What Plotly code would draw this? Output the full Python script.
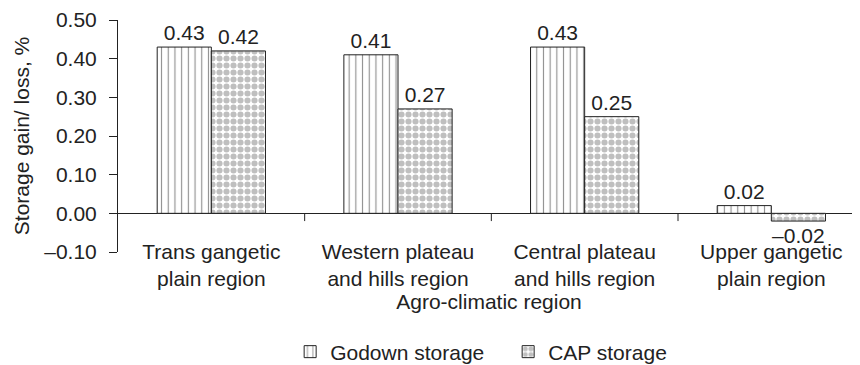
import plotly.graph_objects as go

categories = ["Trans gangetic<br>plain region", "Western plateau<br>and hills region",
              "Central plateau<br>and hills region", "Upper gangetic<br>plain region"]
godown = [0.43, 0.41, 0.43, 0.02]
cap = [0.42, 0.27, 0.25, -0.02]
ytickvals = [-0.10, 0.00, 0.10, 0.20, 0.30, 0.40, 0.50]
yticktext = ["\u20130.10", "0.00", "0.10", "0.20", "0.30", "0.40", "0.50"]

def fmt(v):
    s = f"{abs(v):.2f}"
    return ("\u2013" + s) if v < 0 else s

FONT = "Liberation Sans, Arial, Helvetica, sans-serif"
INK = "#222222"
FS = 21

fig = go.Figure()
fig.add_trace(go.Bar(
    x=categories, y=godown, name="Godown storage",
    text=[fmt(v) for v in godown], textposition="outside", cliponaxis=False,
    textfont=dict(size=FS, color=INK, family=FONT),
    marker=dict(color="white", line=dict(color=INK, width=1),
                pattern=dict(shape="|", fgcolor=INK, bgcolor="white", size=6.7, solidity=0.17)),
))
fig.add_trace(go.Bar(
    x=categories, y=cap, name="CAP storage",
    text=[fmt(v) for v in cap], textposition="outside", cliponaxis=False,
    textfont=dict(size=FS, color=INK, family=FONT),
    marker=dict(color="white", line=dict(color=INK, width=1),
                pattern=dict(shape=".", fgcolor="#808080", bgcolor="white", size=7, solidity=0.6)),
))

# category boundary ticks on the zero line
for i in range(len(categories) - 1):
    fig.add_shape(type="line", xref="x", yref="y", x0=i + 0.5, x1=i + 0.5, y0=0, y1=-0.02,
                  line=dict(color=INK, width=1))

fig.update_layout(
    width=852, height=357,
    margin=dict(l=110, r=0, t=12, b=113, autoexpand=False),
    plot_bgcolor="white", paper_bgcolor="white",
    font=dict(family=FONT, size=FS, color=INK),
    barmode="group", bargap=0.42, bargroupgap=0,
    showlegend=True,
    legend=dict(orientation="h", x=0.232, xanchor="left", y=-0.431, yanchor="middle",
                font=dict(size=FS, color=INK), entrywidth=173, traceorder="normal"),
    xaxis=dict(range=[-0.5, 3.475], showline=False, ticks="", showgrid=False,
               anchor="free", position=0.065, automargin=False,
               tickfont=dict(size=FS, color=INK),
               title=dict(text="Agro-climatic region", font=dict(size=FS, color=INK), standoff=0)),
    yaxis=dict(range=[-0.1, 0.5], tickvals=ytickvals, ticktext=yticktext,
               showline=True, linecolor=INK, linewidth=1, ticks="outside", ticklen=8,
               tickcolor=INK, showgrid=False, zeroline=True, zerolinecolor=INK, zerolinewidth=1,
               ticklabelstandoff=8, automargin=False,
               tickfont=dict(size=FS, color=INK),
               title=dict(text="Storage gain/ loss, %", font=dict(size=FS, color=INK), standoff=8)),
)

fig.write_html("out.html")
